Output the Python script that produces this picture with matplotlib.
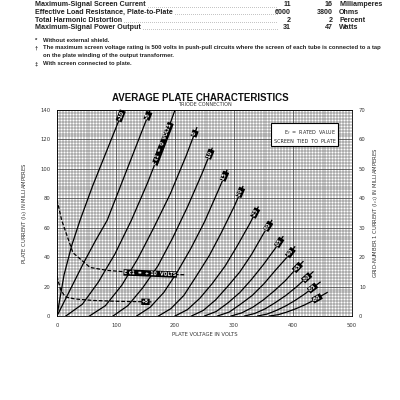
import numpy as np
import matplotlib.pyplot as plt
from matplotlib.lines import Line2D

# --- table rows at top of the sheet ---
row_names = ["Maximum-Signal Screen Current", "Effective Load Resistance, Plate-to-Plate",
             "Total Harmonic Distortion", "Maximum-Signal Power Output"]
col_a = ["11", "6000", "2", "31"]
col_b = ["16", "3800", "2", "47"]
units = ["Milliamperes", "Ohms", "Percent", "Watts"]

notes_mark = ["*", "\u2020", "", "\u2021"]
notes_text = ["Without external shield.",
              "The maximum screen voltage rating is 500 volts in push-pull circuits where the screen of each tube is connected to a tap",
              "on the plate winding of the output transformer.",
              "With screen connected to plate."]

# --- plate characteristics, triode connection ---
grid_labels = ["+10", "+5", "Ec1 = 0 VOLTS", "-5", "-10", "-15", "-20", "-25",
               "-30", "-35", "-40", "-45", "-50", "-55", "-60"]
plate_v = [
    [0, 5, 12, 25, 39, 60, 85, 112],
    [0, 10, 25, 45, 65, 85, 120, 158],
    [15, 43, 70, 98, 126, 154, 182, 200],
    [55, 82, 110, 137, 164, 192, 219, 237],
    [95, 120, 145, 171, 196, 221, 246, 263],
    [135, 158, 181, 204, 227, 250, 273, 288],
    [172, 193, 215, 236, 258, 279, 301, 315],
    [200, 221, 242, 263, 285, 306, 327, 341],
    [228, 248, 269, 289, 310, 330, 350, 364],
    [250, 270, 290, 310, 330, 350, 370, 383],
    [272, 292, 311, 331, 351, 370, 390, 403],
    [295, 313, 332, 350, 368, 387, 405, 417],
    [318, 335, 353, 370, 388, 405, 422, 434],
    [340, 356, 372, 388, 404, 420, 435, 446],
    [360, 375, 389, 404, 419, 434, 448, 458],
]
plate_ma = [
    [0, 12, 28, 48, 65, 88, 113, 140],
    [0, 8, 20, 36, 51, 65, 101, 140],
    [0, 8, 23, 42, 65, 91, 120, 140],
    [0, 7, 21, 39, 60, 83, 109, 128],
    [0, 7, 19, 34, 53, 74, 97, 114],
    [0, 6, 16, 30, 46, 64, 85, 99],
    [0, 5, 14, 27, 41, 57, 75, 88],
    [0, 4.3, 12, 22, 34, 48, 63, 74],
    [0, 3.8, 11, 20, 30, 42, 56, 65],
    [0, 3.1, 9, 16, 25, 35, 46, 54],
    [0, 2.7, 8, 14, 22, 31, 40, 47],
    [0, 2.1, 6, 11, 17, 24, 32, 37],
    [0, 1.7, 4.9, 9.1, 14, 19.5, 25.6, 30],
    [0, 1.3, 3.8, 6.9, 10.7, 15, 19.6, 23],
    [0, 0.9, 2.6, 4.8, 7.4, 10.4, 13.7, 16],
]

# grid-no.1 current (right scale), dashed
ic1_labels = ["E c1  =  + 10  VOLTS", "+5"]
ic1_v = [[0, 8, 27, 56, 85, 150, 217],
         [0, 6, 14, 30, 60, 100, 160]]
ic1_ma = [[39.5, 32.5, 21.5, 16.5, 15.5, 14.5, 14],
          [13.5, 9, 6.5, 5.8, 5.3, 5.0, 4.8]]

fig = plt.figure(figsize=(4, 4), dpi=100)
fig.patch.set_facecolor("white")

def fy(py):
    return 1 - py / 400.0

def fx(px):
    return px / 400.0

fam = ["Liberation Sans", "DejaVu Sans"]
txt = dict(fontsize=5.1, fontweight="bold", va="center", color="#222", family=fam)
note = dict(fontsize=4.25, fontweight="semibold", va="center", color="#222", family=fam)
label_objs = []
for i, name in enumerate(row_names):
    y = fy(5 + 7.5 * i)
    label_objs.append(fig.text(fx(35), y, name, ha="left", **txt))
    fig.text(fx(291), y, col_a[i], ha="right", **txt)
    fig.text(fx(333), y, col_b[i], ha="right", **txt)
    fig.text(fx(339), y, units[i], ha="left", **txt)

fig.canvas.draw()
r = fig.canvas.get_renderer()
for i, t in enumerate(label_objs):
    bb = t.get_window_extent(r)
    y = fy(5 + 7.5 * i) - 0.004
    fig.add_artist(Line2D([(bb.x1 + 2) / 400.0, fx(278)], [y, y], transform=fig.transFigure,
                          color="#333", lw=0.6, linestyle=(0, (0.4, 2.0))))

note_y = [40, 48, 55.5, 64]
for i in range(4):
    if notes_mark[i]:
        fig.text(fx(35), fy(note_y[i]), notes_mark[i], ha="left", **note)
    fig.text(fx(43), fy(note_y[i]), notes_text[i], ha="left", **note)

fig.text(0.5, fy(98), "AVERAGE PLATE CHARACTERISTICS", ha="center", va="center",
         fontsize=7, fontweight="bold", color="#111", family=fam)

ax = fig.add_axes([57 / 400, 1 - 316 / 400, 295 / 400, 206 / 400])
ax.set_xlim(0, 500)
ax.set_ylim(0, 140)
ax.set_xticks(np.arange(0, 501, 100))
ax.set_yticks(np.arange(0, 141, 20))
ax.set_xticks(np.arange(0, 501, 5), minor=True)
ax.set_yticks(np.arange(0, 141, 2), minor=True)
ax.grid(which="minor", color="#444", lw=0.35)
ax.grid(which="major", color="#333", lw=0.5)
ax.tick_params(which="both", length=0, labelsize=3.8, pad=5, colors="#333")
for s in ax.spines.values():
    s.set_linewidth(0.6)
ax.set_axisbelow(True)

ax.text(0.5, 1.025, "TRIODE CONNECTION", transform=ax.transAxes, ha="center",
        va="center", fontsize=3.6, color="#333")
ax.set_xlabel("PLATE VOLTAGE IN VOLTS", fontsize=3.8, labelpad=3, color="#333")
ax.set_ylabel("PLATE CURRENT (I$_b$) IN MILLIAMPERES", fontsize=3.8, labelpad=8, color="#333")

ax2 = ax.twinx()
ax2.set_ylim(0, 70)
ax2.set_yticks(np.arange(0, 71, 10))
ax2.tick_params(length=0, labelsize=3.8, pad=5, colors="#333")
for s in ax2.spines.values():
    s.set_visible(False)
ax2.set_ylabel("GRID-NUMBER 1 CURRENT (I$_{c1}$) IN MILLIAMPERES", fontsize=3.8,
               labelpad=4, color="#333")

def along(a, xs, ys, yl, s, fs=3.3):
    x = np.interp(yl, ys, xs)
    p1 = a.transData.transform((np.interp(yl - 3, ys, xs), yl - 3))
    p2 = a.transData.transform((np.interp(yl + 3, ys, xs), yl + 3))
    ang = np.degrees(np.arctan2(p2[1] - p1[1], p2[0] - p1[0]))
    a.text(x, yl, s, rotation=ang, rotation_mode="anchor", ha="center", va="center",
           fontsize=fs, color="white", fontweight="bold",
           bbox=dict(boxstyle="square,pad=0.15", fc="black", ec="none"))

for i in range(len(plate_v)):
    ax.plot(plate_v[i], plate_ma[i], color="black", lw=0.9)

for i in range(len(plate_v)):
    top = plate_ma[i][-1]
    if i == 2:
        along(ax, plate_v[i], plate_ma[i], 117, "E c1  =  0  VOLTS")
    else:
        along(ax, plate_v[i], plate_ma[i], top - 4, grid_labels[i])

for i in range(2):
    ax2.plot(ic1_v[i], ic1_ma[i], color="black", lw=0.9, linestyle=(0, (3, 1.5)))

def along_flat(a, xs, ys, xl, s):
    y = np.interp(xl, xs, ys)
    p1 = a.transData.transform((xl - 10, np.interp(xl - 10, xs, ys)))
    p2 = a.transData.transform((xl + 10, np.interp(xl + 10, xs, ys)))
    ang = np.degrees(np.arctan2(p2[1] - p1[1], p2[0] - p1[0]))
    a.text(xl, y, s, rotation=ang, rotation_mode="anchor", ha="center", va="center",
           fontsize=3.3, color="white", fontweight="bold",
           bbox=dict(boxstyle="square,pad=0.15", fc="black", ec="none"))

along_flat(ax2, ic1_v[0], ic1_ma[0], 158, ic1_labels[0])
along_flat(ax2, ic1_v[1], ic1_ma[1], 150, ic1_labels[1])

ax.text(0.945, 0.875, "E$_f$  =  RATED  VALUE\nSCREEN  TIED  TO  PLATE", transform=ax.transAxes,
        ha="right", va="center", fontsize=3.5, color="#222", linespacing=1.6,
        bbox=dict(boxstyle="square,pad=0.5", fc="white", ec="black", lw=0.8))

fig.savefig("out.png", dpi=100, facecolor="white")
